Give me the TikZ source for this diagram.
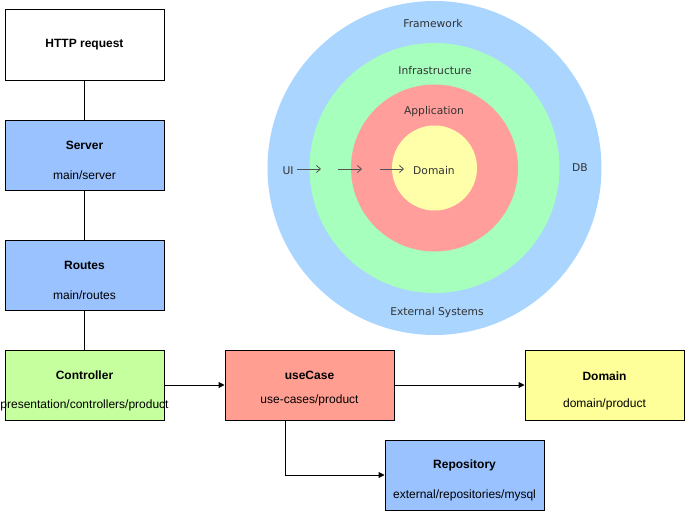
\documentclass[tikz,border=0pt]{standalone}
\usepackage{fontspec}
\setmainfont{Liberation Sans}
\newfontfamily\circfont{DejaVu Sans}
\usetikzlibrary{arrows.meta}
\definecolor{boxblue}{HTML}{99C2FF}
\definecolor{boxgreen}{HTML}{C6FF9E}
\definecolor{boxred}{HTML}{FF9E91}
\definecolor{boxyellow}{HTML}{FFFF99}
\definecolor{cblue}{HTML}{A9D5FF}
\definecolor{cgreen}{HTML}{A6FFBC}
\definecolor{cred}{HTML}{FF9E9A}
\definecolor{cyellow}{HTML}{FFFFAA}
\definecolor{ctext}{HTML}{333333}
\tikzset{
  boxnode/.style={draw=black, line width=1pt, minimum width=159pt, minimum height=70pt, inner sep=0pt},
  titletext/.style={font=\fontsize{12}{14}\selectfont\bfseries},
  subtext/.style={font=\fontsize{12}{14}\selectfont},
  ring/.style={circle, draw=none, inner sep=0pt},
  clabel/.style={font=\circfont\fontsize{10.7}{12}\selectfont, text=ctext, yshift=-1.5pt},
  conn/.style={line width=1pt, draw=black},
  arr/.style={conn, -{Triangle[length=6pt,width=6pt]}},
  carr/.style={draw=ctext!85, line width=0.8pt, -{Straight Barb[length=4pt,width=7pt]}}
}
\begin{document}
\begin{tikzpicture}[x=1pt,y=-1pt]
\useasboundingbox[fill=white] (0,0) rectangle (685,511);
% rings
\node[ring, fill=cblue, minimum size=334pt] (fw) at (434.5,168) {};
\node[ring, fill=cgreen, minimum size=250pt] (inf) at (434.5,168) {};
\node[ring, fill=cred, minimum size=167pt] (app) at (434.5,168) {};
\node[ring, fill=cyellow, minimum size=85pt] (dom) at (434.5,168) {};
\node[clabel] (lfw) at (433,22) {Framework};
\node[clabel] (linf) at (435,69) {Infrastructure};
\node[clabel] (lapp) at (434,110) {Application};
\node[clabel] (ldom) at (434,169) {Domain};
\node[clabel] (lui) at (288,169) {UI};
\node[clabel] (ldb) at (580,166) {DB};
\node[clabel] (lext) at (437,311) {External Systems};
\coordinate (a1s) at (297,169); \coordinate (a1e) at (321,169);
\coordinate (a2s) at (338,169); \coordinate (a2e) at (362,169);
\coordinate (a3s) at (380,169); \coordinate (a3e) at (404,169);
\draw[carr] (a1s) -- (a1e);
\draw[carr] (a2s) -- (a2e);
\draw[carr] (a3s) -- (a3e);
% boxes
\node[boxnode, fill=white] (http) at (84.5,45) {};
\node[titletext] (httpt) at (84.5,45) {HTTP request};
\node[boxnode, fill=boxblue] (server) at (84.5,155) {};
\node[titletext] (servert) at (84.5,145) {Server};
\node[subtext] (servers) at (84.5,175) {main/server};
\node[boxnode, fill=boxblue] (routes) at (84.5,275) {};
\node[titletext] (routest) at (84.5,265) {Routes};
\node[subtext] (routess) at (84.5,295) {main/routes};
\node[boxnode, fill=boxgreen] (ctrl) at (84.5,385) {};
\node[titletext] (ctrlt) at (84.5,375) {Controller};
\node[subtext] (ctrls) at (84.5,405) {presentation/controllers/product};
\node[boxnode, fill=boxred, minimum width=169pt] (uc) at (309.5,385) {};
\node[titletext] (uct) at (309.5,375) {useCase};
\node[subtext] (ucs) at (309.5,400) {use-cases/product};
\node[boxnode, fill=boxyellow] (domb) at (604.5,385) {};
\node[titletext] (dombt) at (604.5,376) {Domain};
\node[subtext] (dombs) at (604.5,404) {domain/product};
\node[boxnode, fill=boxblue] (repo) at (464.5,475) {};
\node[titletext] (repot) at (464.5,465) {Repository};
\node[subtext] (repos) at (464.5,495) {external/repositories/mysql};
% connectors
\draw[conn] (http) -- (server);
\draw[conn] (server) -- (routes);
\draw[conn] (routes) -- (ctrl);
\draw[arr] (ctrl) -- (uc);
\draw[arr] (uc) -- (domb);
\draw[arr] (uc.south -| 285,0) |- (repo.west);
\end{tikzpicture}
\end{document}
